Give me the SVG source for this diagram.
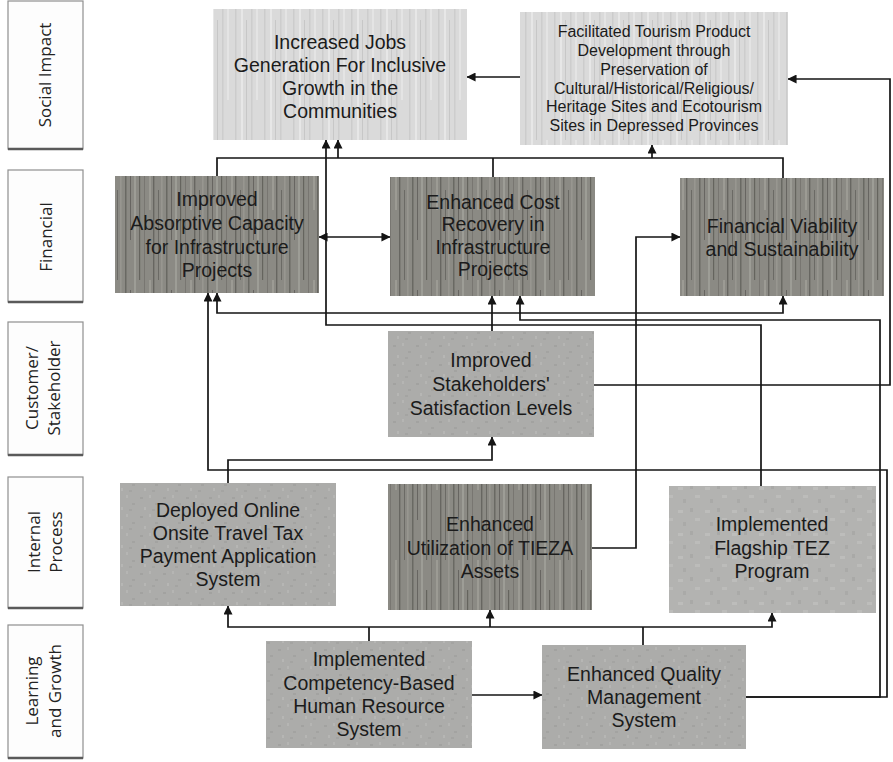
<svg xmlns="http://www.w3.org/2000/svg" width="893" height="762" viewBox="0 0 893 762">
<defs>
<style>
.node text{font-family:"Liberation Sans",Arial,sans-serif;font-size:19.5px;fill:#1b1b1b;text-anchor:middle}
.node.small text{font-size:16px}
.cat rect{fill:#fdfdfd;stroke:#8f8f8f;stroke-width:1.2}
.cat line{stroke:#5a5a5a;stroke-width:2.5}
.cat text{font-family:"Open Sans","Noto Sans",sans-serif;font-size:17px;fill:#222;text-anchor:middle}
.conn path{fill:none;stroke:#151515;stroke-width:1.7}
.conn .a{marker-end:url(#ah)}
.conn .b{marker-start:url(#ah);marker-end:url(#ah)}
</style>
<marker id="ah" viewBox="0 0 10 10" refX="9.5" refY="5" markerWidth="9" markerHeight="9" markerUnits="userSpaceOnUse" orient="auto-start-reverse">
<path d="M0,0 L10,5 L0,10 z" fill="#151515"/>
</marker>
<pattern id="texDark" patternUnits="userSpaceOnUse" width="41" height="140">
<rect width="41" height="140" fill="#8b8a84"/>
<rect x="2" width="1.5" height="140" fill="#5c5b56" opacity="0.7"/>
<rect x="7" y="10" width="1" height="90" fill="#4e4d49" opacity="0.6"/>
<rect x="11" width="2" height="140" fill="#a6a59e" opacity="0.7"/>
<rect x="16" y="30" width="1.2" height="110" fill="#55544f" opacity="0.7"/>
<rect x="21" width="1" height="140" fill="#6a6964" opacity="0.6"/>
<rect x="26" width="2" height="70" fill="#a7a69f" opacity="0.6"/>
<rect x="30" width="1.4" height="140" fill="#4f4e4a" opacity="0.6"/>
<rect x="35" y="50" width="1" height="90" fill="#5e5d58" opacity="0.7"/>
<rect x="38" width="1.6" height="140" fill="#a09f98" opacity="0.6"/>
</pattern>
<pattern id="texLight" patternUnits="userSpaceOnUse" width="29" height="140">
<rect width="29" height="140" fill="#dadada"/>
<rect x="3" width="1.5" height="140" fill="#c8c8c8" opacity="0.8"/>
<rect x="9" width="2" height="140" fill="#e7e7e7"/>
<rect x="14" y="20" width="1" height="120" fill="#c2c2c2" opacity="0.8"/>
<rect x="19" width="1.5" height="140" fill="#cdcdcd"/>
<rect x="24" width="2" height="100" fill="#e4e4e4"/>
</pattern>
<pattern id="texMid" patternUnits="userSpaceOnUse" width="23" height="19">
<rect width="23" height="19" fill="#acacaa"/>
<rect x="2" y="3" width="3" height="2" fill="#a2a2a0"/>
<rect x="11" y="1" width="2" height="3" fill="#b5b5b3"/>
<rect x="17" y="9" width="3" height="2" fill="#a3a3a1"/>
<rect x="6" y="13" width="2" height="3" fill="#b6b6b4"/>
<rect x="14" y="15" width="3" height="2" fill="#a4a4a2"/>
</pattern>
<pattern id="texMid2" patternUnits="userSpaceOnUse" width="27" height="23">
<rect width="27" height="23" fill="#b3b3b1"/>
<rect x="3" y="4" width="5" height="3" fill="#bdbdbb"/>
<rect x="15" y="2" width="3" height="4" fill="#a9a9a7"/>
<rect x="20" y="12" width="5" height="3" fill="#bcbcba"/>
<rect x="8" y="16" width="3" height="4" fill="#aaaaa8"/>
</pattern>
</defs>

<g id="categories" class="cat">
<g id="cat-social"><rect x="8" y="1" width="75" height="148"/><line x1="8" y1="149" x2="83" y2="149"/><text transform="translate(51,75) rotate(-90)">Social Impact</text></g>
<g id="cat-financial"><rect x="8" y="170" width="75" height="132"/><line x1="8" y1="302" x2="83" y2="302"/><text transform="translate(52,237) rotate(-90)">Financial</text></g>
<g id="cat-customer"><rect x="8" y="322" width="75" height="133"/><line x1="8" y1="455" x2="83" y2="455"/><text transform="translate(38,388) rotate(-90)">Customer/</text><text transform="translate(60,388) rotate(-90)">Stakeholder</text></g>
<g id="cat-internal"><rect x="8" y="477" width="75" height="131"/><line x1="8" y1="608" x2="83" y2="608"/><text transform="translate(40,542) rotate(-90)">Internal</text><text transform="translate(62,542) rotate(-90)">Process</text></g>
<g id="cat-learning"><rect x="8" y="625" width="75" height="133"/><line x1="8" y1="758" x2="83" y2="758"/><text transform="translate(38,691) rotate(-90)">Learning</text><text transform="translate(61,691) rotate(-90)">and Growth</text></g>
</g>

<g id="jobs" class="node"><rect x="213" y="9" width="254" height="131" fill="url(#texLight)"/>
<text x="340" y="49">Increased Jobs</text><text x="340" y="72">Generation For Inclusive</text><text x="340" y="95">Growth in the</text><text x="340" y="118">Communities</text></g>

<g id="tourism" class="node small"><rect x="520" y="12" width="268" height="133" fill="url(#texLight)"/>
<text x="654" y="37">Facilitated Tourism Product</text><text x="654" y="56">Development through</text><text x="654" y="75">Preservation of</text><text x="654" y="94">Cultural/Historical/Religious/</text><text x="654" y="112">Heritage Sites and Ecotourism</text><text x="654" y="131">Sites in Depressed Provinces</text></g>

<g id="absorptive" class="node"><rect x="115" y="176" width="204" height="117" fill="url(#texDark)"/>
<text x="217" y="206">Improved</text><text x="217" y="230">Absorptive Capacity</text><text x="217" y="254">for Infrastructure</text><text x="217" y="277">Projects</text></g>

<g id="costrecovery" class="node"><rect x="390" y="177" width="205" height="119" fill="url(#texDark)"/>
<text x="493" y="209">Enhanced Cost</text><text x="493" y="231">Recovery in</text><text x="493" y="254">Infrastructure</text><text x="493" y="276">Projects</text></g>

<g id="viability" class="node"><rect x="680" y="178" width="204" height="118" fill="url(#texDark)"/>
<text x="782" y="233">Financial Viability</text><text x="782" y="256">and Sustainability</text></g>

<g id="stakeholders" class="node"><rect x="388" y="331" width="206" height="106" fill="url(#texMid)"/>
<text x="491" y="367">Improved</text><text x="491" y="391">Stakeholders'</text><text x="491" y="415">Satisfaction Levels</text></g>

<g id="deployed" class="node"><rect x="120" y="483" width="216" height="123" fill="url(#texMid)"/>
<text x="228" y="517">Deployed Online</text><text x="228" y="540">Onsite Travel Tax</text><text x="228" y="563">Payment Application</text><text x="228" y="586">System</text></g>

<g id="utilization" class="node"><rect x="388" y="484" width="204" height="126" fill="url(#texDark)"/>
<text x="490" y="531">Enhanced</text><text x="490" y="555">Utilization of TIEZA</text><text x="490" y="578">Assets</text></g>

<g id="flagship" class="node"><rect x="669" y="486" width="207" height="127" fill="url(#texMid2)"/>
<text x="772" y="531">Implemented</text><text x="772" y="555">Flagship TEZ</text><text x="772" y="578">Program</text></g>

<g id="competency" class="node"><rect x="266" y="641" width="206" height="107" fill="url(#texMid)"/>
<text x="369" y="666">Implemented</text><text x="369" y="690">Competency-Based</text><text x="369" y="713">Human Resource</text><text x="369" y="736">System</text></g>

<g id="quality" class="node"><rect x="542" y="645" width="204" height="104" fill="url(#texMid)"/>
<text x="644" y="681">Enhanced Quality</text><text x="644" y="704">Management</text><text x="644" y="727">System</text></g>

<g id="connectors" class="conn">
<path d="M217,176 V158 H783 V178"/>
<path class="a" d="M338,158 V140"/>
<path class="a" d="M652,158 V145"/>
<path d="M493,177 V158"/>
<path class="a" d="M520,77 H467"/>
<path class="a" d="M594,385 H890 V79 H788"/>
<path class="b" d="M319,237 H390"/>
<path class="a" d="M761,486 V325 H326 V140"/>
<path class="a" d="M746,697 H880 V320 H520 V296"/>
<path class="a" d="M746,697 H887 V470 H208 V293"/>
<path class="b" d="M217,293 V313 H783 V296"/>
<path class="a" d="M492,331 V296"/>
<path class="a" d="M228,483 V460 H492 V437"/>
<path class="a" d="M592,548 H636 V237 H680"/>
<path class="b" d="M228,606 V627 H772 V613"/>
<path class="a" d="M490,627 V610"/>
<path d="M369,641 V627"/>
<path d="M643,645 V627"/>
<path class="a" d="M472,695 H542"/>
</g>
</svg>
